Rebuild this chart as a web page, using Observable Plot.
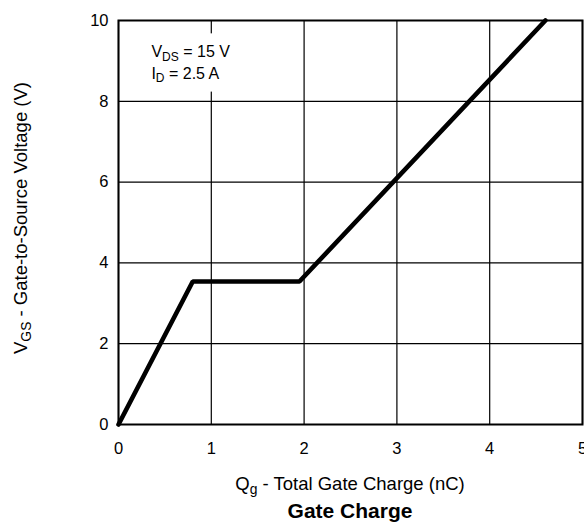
<!DOCTYPE html>
<html>
<head>
<meta charset="utf-8">
<script src="https://cdn.jsdelivr.net/npm/d3@7"></script>
<script src="https://cdn.jsdelivr.net/npm/@observablehq/plot@0.6"></script>
<style>
  html, body { margin: 0; padding: 0; background: #fff; }
  body { width: 584px; font-family: "Liberation Sans", Arial, sans-serif; }
  #title { text-align: center; font-weight: bold; font-size: 21px; line-height: 26px; padding-left: 116px; color: #000; }
  svg { overflow: visible; }
</style>
</head>
<body>
<div id="chart"></div>
<div id="title">Gate Charge</div>
<script>
// Data
const charge = [0, 0.80, 1.95, 4.6];       // Qg (nC)
const voltage = [0, 3.54, 3.54, 10];       // VGS (V)
const xTicks = [0, 1, 2, 3, 4, 5];
const yTicks = [0, 2, 4, 6, 8, 10];
const noteLines = [
  {main: "V", sub: "DS", rest: " = 15 V", q: 0.36, v: 9.18},
  {main: "I", sub: "D", rest: " = 2.5 A", q: 0.36, v: 8.64}
];
const xLabel = {main: "Q", sub: "g", rest: " - Total Gate Charge (nC)"};
const yLabel = {main: "V", sub: "GS", rest: " - Gate-to-Source Voltage (V)"};

const data = charge.map((q, i) => ({q, v: voltage[i]}));

const chart = Plot.plot({
  width: 584,
  height: 498,
  marginTop: 20,
  marginBottom: 74,
  marginLeft: 118,
  marginRight: 2,
  style: {fontFamily: "'Liberation Sans', Arial, sans-serif", fontSize: "16px", color: "#000", background: "#fff", overflow: "visible"},
  x: {domain: [0, 5]},
  y: {domain: [0, 10]},
  marks: [
    Plot.gridX(xTicks, {stroke: "#000", strokeOpacity: 1, strokeWidth: 1.2}),
    Plot.gridY(yTicks, {stroke: "#000", strokeOpacity: 1, strokeWidth: 1.2}),
    Plot.axisX(xTicks, {tickSize: 0, tickPadding: 18, label: null, fontSize: 16.5}),
    Plot.axisY(yTicks, {tickSize: 0, tickPadding: 10, label: null, fontSize: 16.5}),
    Plot.line(data, {x: "q", y: "v", stroke: "#000", strokeWidth: 4.6, strokeLinejoin: "miter"}),
    Plot.frame({stroke: "#000", strokeWidth: 2})
  ]
});
document.getElementById("chart").appendChild(chart);

const svg = d3.select(chart);
const sx = chart.scale("x"), sy = chart.scale("y");

function richText(g, spec, x, y, size, anchor) {
  const t = g.append("text")
    .attr("x", x).attr("y", y)
    .attr("font-size", size)
    .attr("fill", "#000")
    .attr("text-anchor", anchor || "start")
    .attr("dominant-baseline", "middle");
  t.append("tspan").text(spec.main);
  t.append("tspan").text(spec.sub).attr("font-size", size * 0.75).attr("dy", size * 0.28);
  t.append("tspan").text(spec.rest).attr("dy", -size * 0.28);
  return t;
}

// annotation with white background
const ann = svg.append("g");
const bgRect = ann.append("rect").attr("fill", "#fff");
const texts = noteLines.map(n => richText(ann, n, sx.apply(n.q), sy.apply(n.v), 16));
let x0 = Infinity, y0 = Infinity, x1 = -Infinity, y1 = -Infinity;
texts.forEach(t => {
  const b = t.node().getBBox();
  x0 = Math.min(x0, b.x); y0 = Math.min(y0, b.y);
  x1 = Math.max(x1, b.x + b.width); y1 = Math.max(y1, b.y + b.height);
});
bgRect.attr("x", x0 - 5).attr("y", y0 - 10).attr("width", x1 - x0 + 10).attr("height", y1 - y0 + 16);

// axis labels
const cx = (sx.apply(0) + sx.apply(5)) / 2;
richText(svg, xLabel, cx, 485, 18.5, "middle");
const cy = (sy.apply(0) + sy.apply(10)) / 2;
const yl = svg.append("g").attr("transform", `translate(22,${cy - 4}) rotate(-90)`);
richText(yl, yLabel, 0, 0, 18.5, "middle");
</script>
</body>
</html>
